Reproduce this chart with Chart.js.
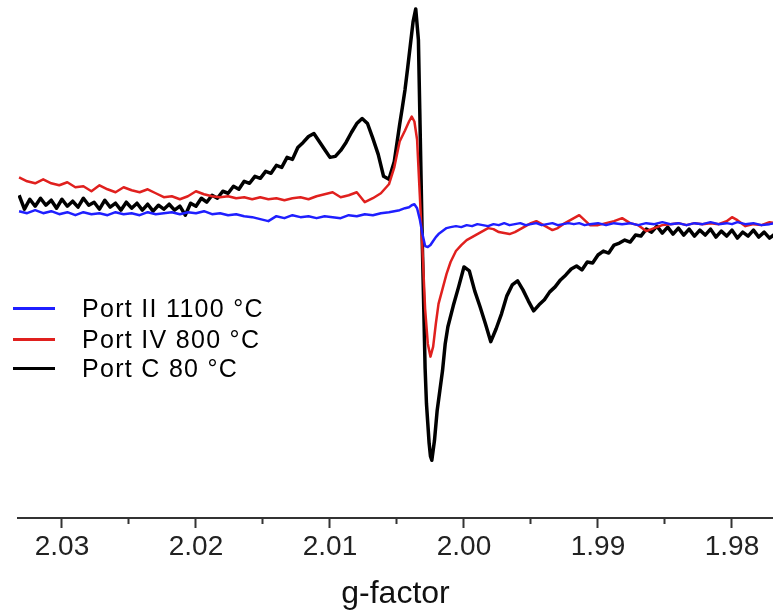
<!DOCTYPE html>
<html lang="en">
<head>
    <meta charset="UTF-8">
    <title>EPR spectra - g-factor</title>
    <script src="https://cdn.jsdelivr.net/npm/chart.js@4.4.0/dist/chart.umd.min.js"></script>
    <style>
        * {
            margin: 0;
            padding: 0;
            box-sizing: border-box;
        }

        body {
            background: white;
            font-family: 'Liberation Sans', Arial, sans-serif;
        }

        .wrap {
            position: relative;
            width: 773px;
            height: 616px;
        }

        .legend-row {
            position: absolute;
            left: 13px;
            height: 30px;
            display: flex;
            align-items: center;
        }

        .legend-line {
            width: 42px;
            height: 3px;
        }

        .legend-text {
            position: absolute;
            left: 69px;
            white-space: nowrap;
            font-size: 25px;
            letter-spacing: 1.3px;
            color: #000;
        }
    </style>
</head>
<body>
    <div class="wrap">
        <canvas id="eprChart"></canvas>
        <div id="legend"></div>
    </div>

    <script>
        // g-factor sample positions (red and blue traces share this grid)
        const gCoarse = [
            2.0332, 2.0326, 2.0320, 2.0314, 2.0308, 2.0302, 2.0296, 2.0290, 2.0284, 2.0278,
            2.0272, 2.0266, 2.0260, 2.0254, 2.0248, 2.0242, 2.0236, 2.0230, 2.0224, 2.0218,
            2.0212, 2.0206, 2.0200, 2.0194, 2.0188, 2.0182, 2.0176, 2.0170, 2.0164, 2.0158,
            2.0152, 2.0146, 2.0140, 2.0134, 2.0128, 2.0122, 2.0116, 2.0110, 2.0104, 2.0098,
            2.0092, 2.0086, 2.0080, 2.0074, 2.0068, 2.0062, 2.0056, 2.0052, 2.0048, 2.0044,
            2.0041, 2.0039, 2.0037, 2.0035, 2.0033, 2.0031, 2.0029, 2.0027, 2.0025, 2.0023,
            2.0021, 2.0019, 2.0016, 2.0013, 2.0010, 2.0006, 2.0002, 1.9998, 1.9994, 1.9990,
            1.9986, 1.9982, 1.9978, 1.9974, 1.9970, 1.9966, 1.9962, 1.9958, 1.9954, 1.9950,
            1.9946, 1.9942, 1.9938, 1.9934, 1.9930, 1.9926, 1.9922, 1.9918, 1.9914, 1.9910,
            1.9906, 1.9900, 1.9894, 1.9888, 1.9882, 1.9876, 1.9870, 1.9864, 1.9858, 1.9852,
            1.9846, 1.9840, 1.9834, 1.9828, 1.9822, 1.9816, 1.9810, 1.9804, 1.9800, 1.9796,
            1.9790, 1.9784, 1.9778, 1.9772, 1.9768
        ];

        // Port II 1100 °C (blue)
        const portII = [
            3, 1, 4, 1, 3, 0, 2, -1, 2, 0,
            1, -1, 2, 0, 1, -1, 2, 0, 1, 2,
            0, 2, 1, 3, 0, 1, -1, 0, -2, -3,
            -5, -7, -2, -4, -1, -3, -2, -4, -2, -3,
            -4, -1, -2, 0, -1, 1, 2, 3, 4, 6,
            7, 9, 10, 6, -5, -20, -32, -33, -31, -27,
            -23, -20, -17, -14, -13, -12, -13, -11, -12, -10,
            -11, -12, -10, -11, -9, -11, -10, -9, -11, -10,
            -9, -11, -10, -9, -11, -10, -9, -10, -9, -11,
            -10, -9, -11, -9, -10, -9, -11, -9, -10, -8,
            -10, -9, -11, -9, -10, -8, -10, -9, -10, -8,
            -10, -9, -11, -10, -9
        ];

        // Port IV 800 °C (red)
        const portIV = [
            37, 33, 31, 35, 31, 29, 32, 27, 28, 23,
            29, 25, 22, 27, 24, 22, 25, 21, 17, 18,
            15, 18, 23, 20, 18, 17, 18, 16, 17, 15,
            17, 15, 16, 14, 16, 17, 15, 18, 20, 22,
            17, 19, 22, 12, 16, 21, 30, 47, 73, 84,
            93, 98, 93, 75, 20, -35, -95, -130, -143, -133,
            -110, -90, -75, -60, -48, -37, -31, -26, -23, -20,
            -17, -14, -15, -18, -19, -20, -18, -15, -12, -9,
            -7, -10, -13, -16, -14, -10, -7, -4, -1, -6,
            -11, -11, -9, -7, -4, -9, -11, -17, -14, -11,
            -10, -9, -11, -9, -10, -9, -10, -7, -3, -6,
            -12, -10, -11, -8, -9
        ];

        // g-factor sample positions for the black trace
        const gFine = [
            2.0332, 2.0328, 2.0324, 2.0320, 2.0316, 2.0312, 2.0308, 2.0304, 2.0300, 2.0296,
            2.0292, 2.0288, 2.0284, 2.0280, 2.0276, 2.0272, 2.0268, 2.0264, 2.0260, 2.0256,
            2.0252, 2.0248, 2.0244, 2.0240, 2.0236, 2.0232, 2.0228, 2.0224, 2.0220, 2.0216,
            2.0212, 2.0208, 2.0204, 2.0200, 2.0196, 2.0192, 2.0188, 2.0184, 2.0180, 2.0176,
            2.0172, 2.0168, 2.0164, 2.0160, 2.0156, 2.0152, 2.0148, 2.0144, 2.0140, 2.0136,
            2.0132, 2.0128, 2.0124, 2.0120, 2.0116, 2.0112, 2.0108, 2.0104, 2.0100, 2.0096,
            2.0092, 2.0088, 2.0084, 2.0080, 2.0076, 2.0072, 2.0068, 2.0064, 2.0060, 2.0056,
            2.0052, 2.0048,
            2.0046, 2.0044, 2.0042, 2.0040, 2.0038, 2.0036, 2.0034, 2.0033, 2.0032, 2.0031,
            2.0030, 2.0029, 2.0028, 2.0027, 2.0026, 2.0025, 2.0024, 2.0022, 2.0020, 2.0018,
            2.0016, 2.0014, 2.0012,
            2.0008, 2.0004, 2.0000, 1.9996, 1.9992, 1.9988, 1.9984, 1.9980, 1.9976, 1.9972,
            1.9968, 1.9964, 1.9960, 1.9956, 1.9952, 1.9948, 1.9944, 1.9940, 1.9936, 1.9932,
            1.9928, 1.9924, 1.9920, 1.9916, 1.9912, 1.9908, 1.9904, 1.9900, 1.9896, 1.9892,
            1.9888, 1.9884, 1.9880, 1.9876, 1.9872, 1.9868, 1.9864, 1.9860, 1.9856, 1.9852,
            1.9848, 1.9844, 1.9840, 1.9836, 1.9832, 1.9828, 1.9824, 1.9820, 1.9816, 1.9812,
            1.9808, 1.9804, 1.9800, 1.9796, 1.9792, 1.9788, 1.9784, 1.9780, 1.9776, 1.9772,
            1.9768
        ];

        // Port C 80 °C (black)
        const portC = [
            19, 5, 15, 8, 16, 9, 14, 6, 15, 8,
            13, 7, 16, 9, 12, 5, 14, 7, 11, 4,
            12, 6, 11, 4, 10, 3, 9, 5, 10, 4,
            8, -1, 11, 8, 16, 12, 19, 16, 23, 21,
            28, 25, 33, 31, 38, 36, 43, 41, 49, 47,
            57, 55, 67, 72, 78, 81, 73, 65, 57, 58,
            64, 72, 82, 91, 96, 91, 76, 60, 38, 35,
            53, 90,
            107, 125, 147, 170, 193, 206, 175, 105, 35, -35,
            -95, -155, -190, -210, -230, -243, -247, -227, -197, -177,
            -157, -130, -113,
            -92, -73, -53, -57, -77, -93, -110, -128, -115, -100,
            -82, -71, -67, -76, -87, -97, -91, -86, -78, -73,
            -66, -61, -55, -52, -56, -48, -49, -41, -37, -39,
            -31, -29, -26, -28, -21, -22, -15, -18, -12, -19,
            -13, -20, -14, -21, -15, -22, -16, -21, -15, -23,
            -17, -22, -16, -24, -18, -22, -16, -23, -18, -24,
            -20
        ];

        const seriesLabels = ['Port II 1100 °C', 'Port IV 800 °C', 'Port C 80 °C'];
        const seriesColors = ['#1f1fff', '#e0201e', '#000000'];

        function pairs(gs, vals) {
            return gs.map((g, i) => ({ x: g, y: vals[i] }));
        }

        const chart = new Chart(document.getElementById('eprChart'), {
            type: 'line',
            data: {
                datasets: [
                    { label: seriesLabels[0], data: pairs(gCoarse, portII), borderColor: seriesColors[0], borderWidth: 2.5 },
                    { label: seriesLabels[1], data: pairs(gCoarse, portIV), borderColor: seriesColors[1], borderWidth: 2.5 },
                    { label: seriesLabels[2], data: pairs(gFine, portC), borderColor: seriesColors[2], borderWidth: 3.5 }
                ]
            },
            options: {
                responsive: true,
                maintainAspectRatio: false,
                animation: false,
                layout: { padding: { left: 18, right: 0, top: 0, bottom: 0 } },
                elements: {
                    point: { radius: 0 },
                    line: { tension: 0, borderJoinStyle: 'round' }
                },
                plugins: {
                    legend: { display: false },
                    tooltip: { enabled: false }
                },
                scales: {
                    x: {
                        type: 'linear',
                        reverse: true,
                        min: 1.97694,
                        max: 2.03328,
                        border: { display: true, color: '#333', width: 2 },
                        grid: {
                            drawOnChartArea: false,
                            drawTicks: true,
                            tickLength: 10,
                            tickWidth: 2,
                            tickColor: '#333',
                            tickBorderDash: (ctx) => {
                                const v = ctx.tick ? ctx.tick.value : 0;
                                return Math.abs(Math.round(v * 100) - v * 100) < 1e-6 ? [] : [5, 40];
                            }
                        },
                        ticks: {
                            stepSize: 0.005,
                            includeBounds: false,
                            autoSkip: false,
                            maxRotation: 0,
                            padding: 2,
                            color: '#222',
                            font: { family: "'Liberation Sans', Arial, sans-serif", size: 28 },
                            callback: (v) => Math.abs(Math.round(v * 100) - v * 100) < 1e-6 ? v.toFixed(2) : ''
                        },
                        title: {
                            display: true,
                            text: 'g-factor',
                            color: '#111',
                            font: { family: "'Liberation Sans', Arial, sans-serif", size: 32 },
                            padding: { top: 9, bottom: 3 }
                        }
                    },
                    y: {
                        display: false,
                        min: -305,
                        max: 215
                    }
                }
            }
        });

        // legend inside the plot, built from the datasets
        const legendTops = [293, 324, 353];
        const legendBox = document.getElementById('legend');
        chart.data.datasets.forEach((ds, i) => {
            const row = document.createElement('div');
            row.className = 'legend-row';
            row.style.top = legendTops[i] + 'px';
            const line = document.createElement('div');
            line.className = 'legend-line';
            line.style.background = ds.borderColor;
            const text = document.createElement('span');
            text.className = 'legend-text';
            text.textContent = ds.label;
            row.appendChild(line);
            row.appendChild(text);
            legendBox.appendChild(row);
        });
    </script>
</body>
</html>
